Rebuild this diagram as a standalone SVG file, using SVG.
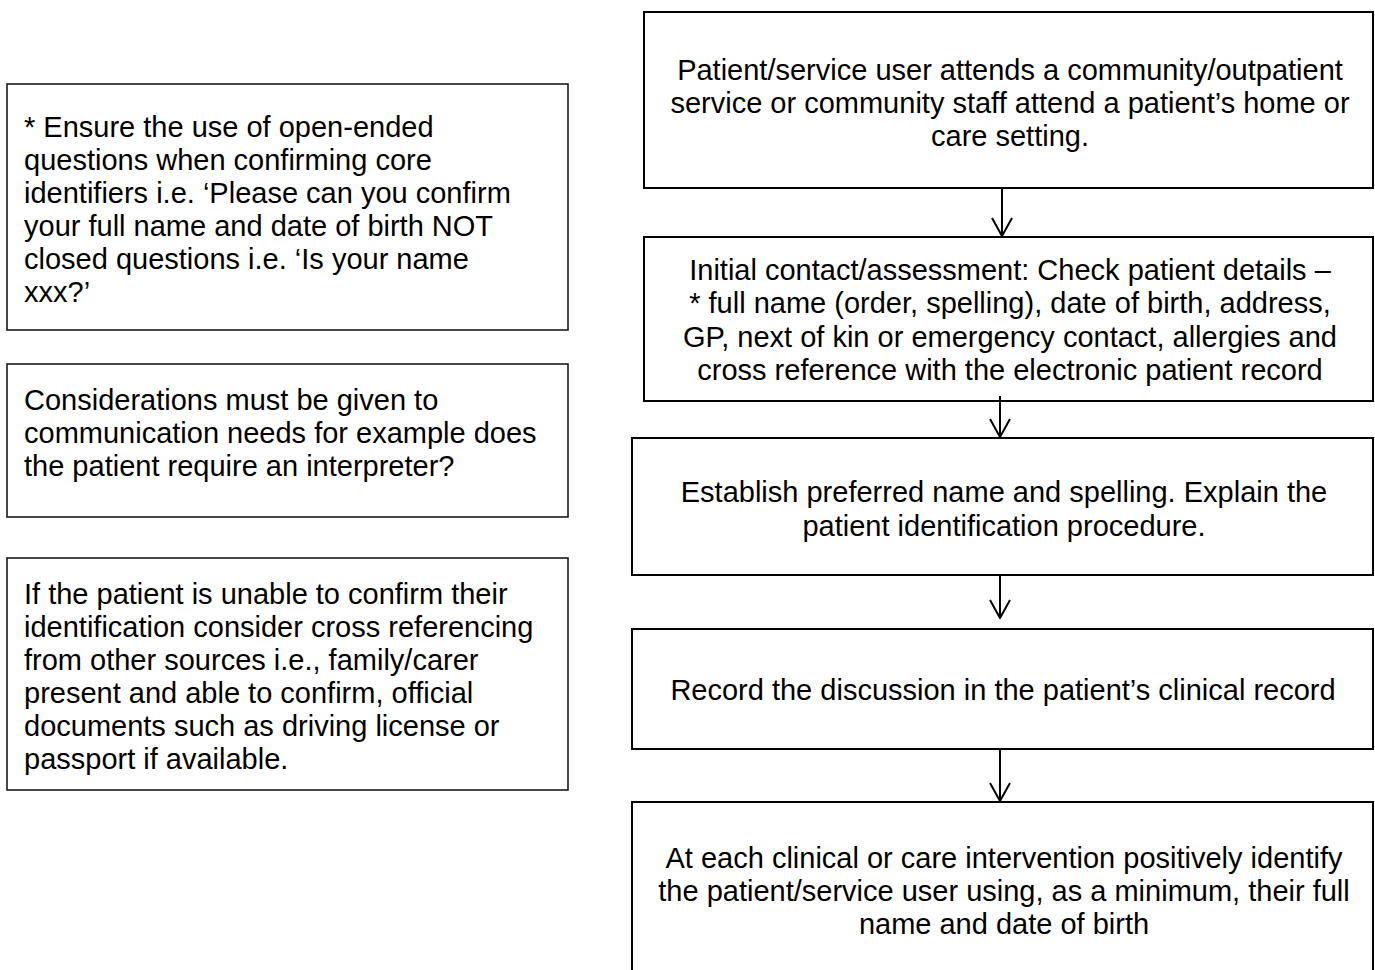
<svg xmlns="http://www.w3.org/2000/svg" width="1375" height="970" viewBox="0 0 1375 970">
<defs>
<style>
.box{fill:#fff;stroke:#000;stroke-width:2}
.note{fill:#fff;stroke:#1a1a1a;stroke-width:1.6}
.t{font-family:"Liberation Sans",Arial,sans-serif;font-size:29px;fill:#000}
.c{text-anchor:middle}
.conn{stroke:#000;stroke-width:2;fill:none}
</style>
<marker id="arr" viewBox="0 0 20 22" refX="19" refY="11" markerWidth="20" markerHeight="22" markerUnits="userSpaceOnUse" orient="auto">
<path d="M1,1 L19,11 L1,21" fill="none" stroke="#000" stroke-width="2"/>
</marker>
</defs>
<rect width="1375" height="970" fill="#fff"/>

<g id="note1">
<rect class="note" x="7" y="84" width="561" height="246"/>
<text class="t"><tspan x="24" y="137">* Ensure the use of open-ended</tspan><tspan x="24" y="170">questions when confirming core</tspan><tspan x="24" y="203">identifiers i.e. ‘Please can you confirm</tspan><tspan x="24" y="236">your full name and date of birth NOT</tspan><tspan x="24" y="269">closed questions i.e. ‘Is your name</tspan><tspan x="24" y="302">xxx?’</tspan></text>
</g>

<g id="note2">
<rect class="note" x="7" y="364" width="561" height="153"/>
<text class="t"><tspan x="24" y="410">Considerations must be given to</tspan><tspan x="24" y="443">communication needs for example does</tspan><tspan x="24" y="476">the patient require an interpreter?</tspan></text>
</g>

<g id="note3">
<rect class="note" x="7" y="558" width="561" height="232"/>
<text class="t"><tspan x="24" y="604">If the patient is unable to confirm their</tspan><tspan x="24" y="637">identification consider cross referencing</tspan><tspan x="24" y="670">from other sources i.e., family/carer</tspan><tspan x="24" y="703">present and able to confirm, official</tspan><tspan x="24" y="736">documents such as driving license or</tspan><tspan x="24" y="769">passport if available.</tspan></text>
</g>

<g id="step1">
<rect class="box" x="644" y="12" width="729" height="176"/>
<text class="t c"><tspan x="1010" y="80">Patient/service user attends a community/outpatient</tspan><tspan x="1010" y="113">service or community staff attend a patient’s home or</tspan><tspan x="1010" y="146">care setting.</tspan></text>
</g>

<g id="step2">
<rect class="box" x="644" y="237" width="729" height="164"/>
<text class="t c"><tspan x="1010" y="280">Initial contact/assessment: Check patient details –</tspan><tspan x="1010" y="313">* full name (order, spelling), date of birth, address,</tspan><tspan x="1010" y="347">GP, next of kin or emergency contact, allergies and</tspan><tspan x="1010" y="380">cross reference with the electronic patient record</tspan></text>
</g>

<g id="step3">
<rect class="box" x="632" y="438" width="741" height="137"/>
<text class="t c"><tspan x="1004" y="502">Establish preferred name and spelling. Explain the</tspan><tspan x="1004" y="536">patient identification procedure.</tspan></text>
</g>

<g id="step4">
<rect class="box" x="632" y="629" width="741" height="120"/>
<text class="t c"><tspan x="1003" y="700">Record the discussion in the patient’s clinical record</tspan></text>
</g>

<g id="step5">
<rect class="box" x="632" y="802" width="741" height="190"/>
<text class="t c"><tspan x="1004" y="868">At each clinical or care intervention positively identify</tspan><tspan x="1004" y="901">the patient/service user using, as a minimum, their full</tspan><tspan x="1004" y="934">name and date of birth</tspan></text>
</g>

<g id="connectors">
<line class="conn" x1="1002" y1="188" x2="1002" y2="236" marker-end="url(#arr)"/>
<line class="conn" x1="1000" y1="396" x2="1000" y2="437" marker-end="url(#arr)"/>
<line class="conn" x1="1000" y1="575" x2="1000" y2="618" marker-end="url(#arr)"/>
<line class="conn" x1="1000" y1="749" x2="1000" y2="801" marker-end="url(#arr)"/>
</g>
</svg>
